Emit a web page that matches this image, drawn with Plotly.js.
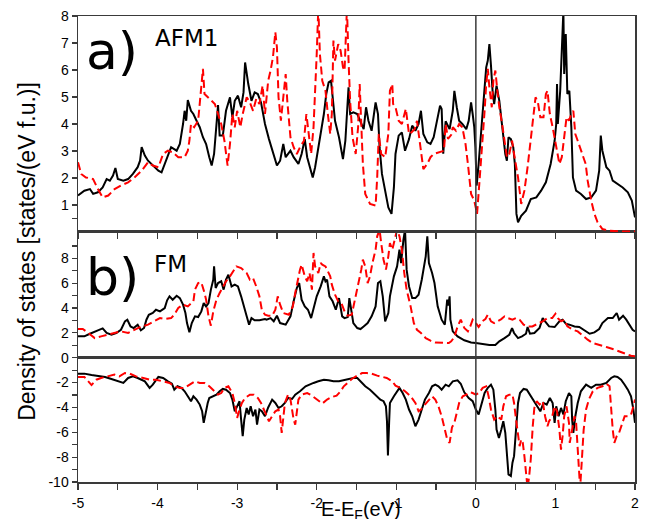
<!DOCTYPE html>
<html>
<head>
<meta charset="utf-8">
<script src="https://cdn.plot.ly/plotly-3.0.1.min.js"></script>
<style>html,body{margin:0;padding:0;background:#fff;}#chart{width:647px;height:519px;}</style>
</head>
<body>
<div id="chart"></div>
<script>
// ---------- DATA ----------
// a) AFM1, black solid
const afmBlackE = [-5,-4.92,-4.85,-4.81,-4.75,-4.69,-4.64,-4.60,-4.56,-4.53,-4.50,-4.43,-4.37,-4.31,-4.25,-4.22,-4.20,-4.16,-4.12,-4.06,-3.99,-3.95,-3.91,-3.87,-3.83,-3.76,-3.72,-3.68,-3.66,-3.64,-3.62,-3.58,-3.55,-3.51,-3.47,-3.43,-3.39,-3.35,-3.32,-3.29,-3.26,-3.24,-3.22,-3.18,-3.14,-3.09,-3.06,-3.03,-2.99,-2.95,-2.92,-2.90,-2.86,-2.82,-2.78,-2.74,-2.70,-2.65,-2.60,-2.56,-2.50,-2.46,-2.42,-2.39,-2.33,-2.29,-2.23,-2.19,-2.15,-2.12,-2.08,-2.05,-2.02,-1.98,-1.94,-1.91,-1.88,-1.85,-1.82,-1.80,-1.77,-1.72,-1.67,-1.64,-1.61,-1.60,-1.58,-1.54,-1.49,-1.45,-1.41,-1.38,-1.35,-1.31,-1.26,-1.23,-1.21,-1.18,-1.14,-1.10,-1.06,-1.03,-1.01,-0.97,-0.93,-0.89,-0.84,-0.80,-0.76,-0.72,-0.69,-0.66,-0.61,-0.57,-0.53,-0.49,-0.45,-0.43,-0.41,-0.38,-0.33,-0.29,-0.27,-0.24,-0.21,-0.17,-0.12,-0.09,-0.06,-0.04,-0.02,-0.006,0.01,0.035,0.065,0.10,0.13,0.15,0.17,0.19,0.21,0.23,0.26,0.295,0.32,0.345,0.37,0.39,0.41,0.44,0.47,0.49,0.51,0.53,0.57,0.63,0.69,0.76,0.82,0.88,0.94,0.99,1.01,1.02,1.03,1.06,1.08,1.10,1.11,1.13,1.15,1.175,1.20,1.22,1.26,1.32,1.385,1.45,1.51,1.55,1.57,1.59,1.64,1.68,1.72,1.78,1.845,1.91,1.96,2.00];
const afmBlackDos = [1.35,1.53,1.59,1.41,1.47,1.65,1.96,1.90,2.09,2.37,1.96,1.90,1.96,2.15,2.40,2.64,3.14,2.83,2.64,2.46,2.27,2.21,2.52,2.89,3.14,3.01,3.26,4.00,4.49,4.12,4.89,4.49,4.37,4.12,3.88,3.51,3.26,2.77,2.46,2.89,4.00,4.70,3.57,3.57,4.49,4.99,4.25,4.86,5.05,4.62,5.17,6.28,5.48,4.86,5.17,5.11,4.80,4.00,3.44,3.01,2.46,2.64,3.26,2.77,3.01,2.77,2.52,2.89,3.44,2.77,2.33,2.02,2.40,3.14,3.75,4.37,5.11,5.54,5.60,4.99,4.12,3.51,2.70,3.38,4.86,5.36,4.37,4.43,4.37,4.12,3.81,4.62,4.12,3.75,4.80,4.37,3.14,2.15,1.53,0.91,0.67,1.65,2.89,3.57,3.69,3.01,3.44,3.94,3.75,4.00,4.49,3.63,3.32,3.26,3.51,4.12,4.68,4.56,2.90,4.10,3.81,4.49,5.23,4.62,4.12,4.00,3.81,4.12,4.80,4.37,3.88,3.14,1.72,2.52,3.75,4.99,6.10,6.35,6.96,6.16,5.23,4.74,5.42,4.86,4.25,3.63,2.89,2.64,3.51,3.44,3.14,2.52,0.67,0.36,0.60,0.79,1.22,1.28,1.53,1.84,2.52,3.38,4.00,5.48,4.00,5.23,6.59,8.20,5.85,7.33,5.11,5.23,3.88,2.02,1.53,1.41,1.22,1.28,1.53,2.27,3.57,3.01,2.40,2.27,1.90,1.78,1.65,1.47,1.16,0.54];

// a) AFM1, red dashed
const afmRedE = [-5,-4.96,-4.90,-4.81,-4.75,-4.69,-4.62,-4.54,-4.46,-4.37,-4.29,-4.20,-4.12,-4.06,-3.99,-3.93,-3.87,-3.81,-3.74,-3.66,-3.62,-3.60,-3.58,-3.54,-3.49,-3.46,-3.43,-3.41,-3.37,-3.32,-3.28,-3.24,-3.20,-3.16,-3.12,-3.09,-3.06,-3.03,-3.00,-2.96,-2.93,-2.88,-2.84,-2.80,-2.76,-2.72,-2.68,-2.65,-2.61,-2.58,-2.55,-2.52,-2.50,-2.48,-2.45,-2.42,-2.39,-2.37,-2.33,-2.29,-2.25,-2.21,-2.16,-2.13,-2.10,-2.07,-2.04,-2.02,-2.00,-1.98,-1.96,-1.93,-1.89,-1.86,-1.83,-1.81,-1.79,-1.77,-1.73,-1.70,-1.67,-1.65,-1.63,-1.62,-1.60,-1.58,-1.55,-1.51,-1.48,-1.46,-1.44,-1.42,-1.39,-1.33,-1.26,-1.24,-1.22,-1.19,-1.14,-1.10,-1.08,-1.05,-1.04,-1.01,-0.97,-0.93,-0.88,-0.84,-0.81,-0.77,-0.74,-0.70,-0.66,-0.61,-0.57,-0.53,-0.47,-0.40,-0.38,-0.35,-0.31,-0.29,-0.25,-0.21,-0.17,-0.13,-0.10,-0.06,-0.02,0.015,0.04,0.08,0.11,0.13,0.15,0.17,0.20,0.22,0.245,0.27,0.295,0.33,0.36,0.39,0.42,0.455,0.48,0.53,0.57,0.61,0.65,0.69,0.72,0.75,0.78,0.81,0.85,0.88,0.90,0.93,0.965,1.01,1.05,1.08,1.11,1.14,1.17,1.20,1.225,1.25,1.28,1.31,1.34,1.38,1.405,1.45,1.49,1.53,1.59,1.68,1.80,2.00];
const afmRedDos = [2.58,2.15,2.02,1.96,1.59,1.28,1.35,1.59,1.72,1.84,2.02,2.27,2.58,2.46,2.40,2.89,3.01,2.95,2.77,2.77,3.01,3.38,4.00,3.88,4.12,5.11,6.04,5.11,4.99,4.86,4.74,4.37,4.00,3.38,2.46,3.26,4.37,3.88,4.49,3.88,4.37,4.99,4.80,4.49,4.93,4.74,5.42,4.37,5.60,5.98,6.47,7.40,6.84,4.99,4.12,4.99,5.85,4.86,3.51,3.14,2.89,3.14,3.38,4.37,3.51,2.89,3.88,4.99,6.59,8.30,6.59,5.60,5.23,4.37,3.63,4.37,7.09,6.35,6.96,6.72,6.10,5.98,7.33,8.30,6.35,4.86,3.51,2.89,3.88,5.48,4.00,2.52,1.41,1.04,0.98,2.02,3.63,2.89,2.77,3.63,5.23,5.48,4.74,4.62,4.12,4.00,4.56,3.63,3.69,3.81,4.12,3.14,2.33,2.52,2.77,2.89,2.95,3.01,4.00,3.45,3.60,3.88,3.75,4.00,3.88,3.26,2.52,1.41,1.16,0.67,1.65,3.14,4.49,5.48,6.04,5.36,4.62,5.60,5.98,5.23,4.62,4.00,3.38,2.77,2.89,3.38,2.89,2.02,1.04,1.53,2.40,3.38,4.12,4.99,4.80,4.25,4.25,5.11,5.23,4.37,3.88,3.14,2.52,2.77,3.51,4.25,4.12,4.37,4.49,3.63,3.38,3.14,2.89,2.52,1.90,1.16,0.67,0.36,0.11,0.05,0.02,0.02];

// b) FM majority, black solid
const fmUpBlackE = [-5,-4.92,-4.85,-4.79,-4.75,-4.69,-4.64,-4.58,-4.52,-4.46,-4.41,-4.38,-4.34,-4.30,-4.25,-4.21,-4.17,-4.14,-4.11,-4.06,-4.02,-3.97,-3.91,-3.88,-3.85,-3.81,-3.76,-3.72,-3.68,-3.65,-3.63,-3.60,-3.57,-3.53,-3.49,-3.45,-3.42,-3.39,-3.36,-3.33,-3.30,-3.29,-3.27,-3.24,-3.20,-3.17,-3.14,-3.11,-3.07,-3.03,-2.99,-2.95,-2.91,-2.88,-2.85,-2.82,-2.78,-2.72,-2.65,-2.63,-2.58,-2.54,-2.50,-2.46,-2.39,-2.33,-2.29,-2.25,-2.22,-2.19,-2.15,-2.11,-2.07,-2.03,-2.00,-1.95,-1.91,-1.89,-1.87,-1.84,-1.80,-1.76,-1.72,-1.68,-1.65,-1.61,-1.59,-1.56,-1.54,-1.49,-1.45,-1.41,-1.36,-1.31,-1.26,-1.23,-1.20,-1.17,-1.14,-1.10,-1.08,-1.03,-0.99,-0.96,-0.94,-0.91,-0.89,-0.87,-0.84,-0.80,-0.76,-0.72,-0.68,-0.63,-0.61,-0.59,-0.55,-0.52,-0.48,-0.43,-0.39,-0.36,-0.345,-0.33,-0.32,-0.29,-0.23,-0.145,-0.06,0.0,0.086,0.17,0.245,0.295,0.36,0.42,0.455,0.48,0.53,0.58,0.63,0.65,0.68,0.735,0.80,0.84,0.87,0.92,0.99,1.05,1.09,1.13,1.175,1.24,1.30,1.36,1.43,1.49,1.55,1.59,1.66,1.72,1.77,1.80,1.85,1.89,1.93,1.97,2.00];
const fmUpBlackDos = [1.72,1.72,1.93,2.12,2.20,2.36,1.99,1.85,1.99,2.25,2.93,3.06,2.52,2.39,2.66,2.20,2.39,3.06,3.46,3.60,3.86,3.73,4.00,4.62,4.94,4.67,4.99,4.80,4.27,3.60,2.79,2.04,2.79,3.33,3.27,3.73,4.40,4.13,4.40,5.48,6.28,7.35,5.61,6.01,6.15,5.48,6.28,6.68,5.74,5.88,5.74,4.94,4.13,3.33,2.66,3.19,3.01,3.01,3.11,3.06,3.19,2.93,3.38,2.79,2.66,3.33,4.54,5.61,6.01,4.67,4.13,3.86,3.19,4.13,4.94,5.74,6.55,6.15,6.28,4.94,4.54,3.86,4.80,3.33,3.19,3.27,4.80,3.60,2.79,2.39,2.31,2.52,2.79,3.33,4.13,6.01,6.15,4.94,2.93,3.60,4.94,6.55,7.35,8.70,7.62,9.50,10.3,7.09,5.74,4.80,4.80,5.07,6.28,8.16,9.77,7.62,6.82,6.01,4.13,3.06,2.66,4.67,4.20,4.94,3.06,2.12,1.72,1.40,1.23,1.18,1.10,1.02,1.02,1.32,1.58,1.85,2.39,1.99,1.58,1.72,1.93,2.47,1.93,1.99,2.39,3.19,2.93,2.52,2.47,2.93,3.06,2.74,2.66,2.52,2.47,2.25,1.93,2.04,2.31,2.79,3.19,3.19,3.60,3.06,3.38,3.06,2.66,2.25,2.12];

// b) FM majority, red dashed
const fmUpRedE = [-5,-4.94,-4.87,-4.79,-4.71,-4.62,-4.54,-4.46,-4.37,-4.29,-4.20,-4.12,-4.04,-3.97,-3.91,-3.83,-3.79,-3.74,-3.68,-3.62,-3.55,-3.53,-3.49,-3.45,-3.41,-3.39,-3.36,-3.33,-3.30,-3.26,-3.22,-3.18,-3.14,-3.09,-3.05,-3.01,-2.95,-2.88,-2.84,-2.80,-2.76,-2.72,-2.69,-2.65,-2.61,-2.56,-2.52,-2.49,-2.46,-2.42,-2.35,-2.30,-2.27,-2.24,-2.21,-2.19,-2.15,-2.12,-2.09,-2.06,-2.04,-2.02,-1.98,-1.95,-1.93,-1.89,-1.86,-1.83,-1.81,-1.77,-1.73,-1.69,-1.65,-1.61,-1.56,-1.52,-1.47,-1.44,-1.42,-1.39,-1.36,-1.33,-1.30,-1.26,-1.24,-1.21,-1.19,-1.16,-1.13,-1.10,-1.08,-1.05,-1.02,-0.99,-0.96,-0.93,-0.90,-0.87,-0.82,-0.78,-0.74,-0.69,-0.63,-0.57,-0.51,-0.43,-0.34,-0.31,-0.27,-0.23,-0.19,-0.145,-0.10,-0.07,-0.04,0.0,0.035,0.08,0.12,0.15,0.19,0.23,0.27,0.32,0.36,0.40,0.46,0.505,0.55,0.60,0.65,0.71,0.78,0.84,0.90,0.96,1.00,1.03,1.07,1.11,1.15,1.22,1.28,1.34,1.405,1.47,1.55,1.64,1.72,1.80,1.89,1.95,2.00];
const fmUpRedDos = [2.31,2.31,1.99,1.58,1.72,1.85,1.99,2.12,1.99,2.25,2.52,2.66,2.93,3.19,3.11,3.19,3.46,4.00,4.27,4.13,4.54,5.48,6.01,6.07,5.21,4.67,3.33,2.58,3.73,4.67,5.21,5.74,6.15,6.55,6.95,7.35,7.22,6.82,6.28,6.41,5.74,4.94,3.86,3.46,3.38,3.38,3.86,4.94,4.27,3.60,3.46,4.13,5.21,6.28,7.09,7.49,6.55,6.15,6.82,5.48,8.43,7.35,6.82,7.62,7.49,7.35,6.95,6.55,5.88,5.07,4.54,4.40,3.73,3.38,3.46,4.67,6.01,7.09,7.89,7.35,6.01,6.55,7.62,8.70,9.77,10.3,9.23,7.89,7.09,8.16,9.23,8.70,9.50,10.3,9.77,8.70,6.82,5.48,4.13,2.79,2.25,1.99,1.58,1.37,1.23,1.18,1.18,1.32,1.66,2.52,3.06,2.39,2.12,2.52,3.06,2.79,2.47,2.93,3.11,3.46,2.93,2.79,2.93,3.11,3.33,3.19,3.06,3.19,3.06,2.66,2.52,2.52,2.74,2.93,3.19,3.19,3.54,3.19,2.93,3.06,2.52,2.25,2.12,1.77,1.45,1.18,1.05,0.86,0.70,0.51,0.32,0.16,0.11];

// FM minority (negative), black solid
const fmDnBlackE = [-5,-4.92,-4.83,-4.75,-4.66,-4.58,-4.50,-4.43,-4.37,-4.31,-4.25,-4.16,-4.10,-4.06,-3.99,-3.93,-3.87,-3.82,-3.79,-3.75,-3.70,-3.66,-3.62,-3.58,-3.55,-3.51,-3.47,-3.44,-3.42,-3.40,-3.37,-3.35,-3.30,-3.26,-3.22,-3.18,-3.14,-3.09,-3.06,-3.03,-3.00,-2.97,-2.95,-2.93,-2.91,-2.88,-2.855,-2.83,-2.80,-2.77,-2.75,-2.72,-2.69,-2.65,-2.61,-2.56,-2.52,-2.48,-2.44,-2.40,-2.36,-2.31,-2.27,-2.21,-2.14,-2.10,-2.04,-1.98,-1.91,-1.85,-1.79,-1.72,-1.66,-1.60,-1.54,-1.49,-1.45,-1.39,-1.33,-1.26,-1.20,-1.16,-1.13,-1.117,-1.105,-1.09,-1.08,-1.03,-0.99,-0.96,-0.92,-0.88,-0.84,-0.80,-0.76,-0.72,-0.68,-0.64,-0.59,-0.55,-0.51,-0.47,-0.43,-0.38,-0.34,-0.30,-0.29,-0.23,-0.19,-0.145,-0.09,-0.04,0.0,0.035,0.065,0.11,0.15,0.19,0.22,0.245,0.26,0.29,0.32,0.345,0.37,0.39,0.41,0.44,0.46,0.48,0.505,0.53,0.555,0.60,0.64,0.68,0.72,0.765,0.81,0.85,0.89,0.93,0.965,0.99,1.01,1.04,1.07,1.10,1.13,1.17,1.20,1.21,1.225,1.25,1.28,1.32,1.385,1.45,1.51,1.57,1.64,1.70,1.74,1.78,1.825,1.87,1.91,1.95,1.98,2.00];
const fmDnBlackDos = [-1.28,-1.28,-1.39,-1.44,-1.55,-1.71,-1.90,-2.03,-1.63,-1.50,-1.63,-1.90,-2.43,-2.17,-1.55,-1.63,-1.90,-2.09,-2.57,-2.30,-2.43,-2.70,-3.10,-3.50,-3.10,-3.37,-3.77,-4.31,-5.24,-4.57,-3.64,-3.24,-3.10,-2.97,-2.70,-2.51,-2.57,-2.84,-3.37,-4.31,-3.91,-3.50,-4.98,-6.31,-4.98,-4.04,-4.57,-3.91,-4.71,-4.17,-5.38,-4.17,-4.31,-4.71,-4.00,-3.37,-3.64,-4.04,-3.91,-3.64,-3.24,-3.32,-2.97,-2.70,-2.30,-2.17,-2.03,-1.90,-1.77,-1.82,-1.90,-1.90,-1.82,-1.77,-1.63,-1.63,-1.90,-2.30,-2.57,-2.97,-3.37,-3.50,-3.91,-5.11,-7.87,-5.24,-3.64,-3.10,-2.70,-2.43,-2.84,-3.37,-4.17,-4.71,-5.51,-4.98,-4.17,-3.37,-2.84,-2.30,-2.17,-2.30,-2.57,-2.17,-2.30,-1.90,-1.90,-1.82,-2.09,-2.78,-3.24,-3.50,-4.17,-4.57,-3.91,-2.84,-2.43,-2.17,-2.57,-4.17,-5.78,-6.45,-5.78,-5.11,-6.04,-8.19,-9.39,-9.52,-8.45,-7.92,-5.51,-3.64,-2.84,-2.51,-2.57,-2.97,-3.37,-3.77,-4.31,-3.64,-3.77,-3.24,-3.64,-5.24,-3.91,-4.71,-4.04,-4.57,-3.50,-2.84,-3.10,-4.98,-6.04,-4.71,-3.64,-2.70,-2.17,-2.43,-2.17,-2.17,-2.03,-1.63,-1.50,-1.55,-1.77,-2.17,-2.57,-3.10,-4.17,-5.24];

// FM minority (negative), red dashed
const fmDnRedE = [-5,-4.92,-4.83,-4.77,-4.71,-4.62,-4.54,-4.48,-4.41,-4.35,-4.27,-4.18,-4.10,-4.02,-3.93,-3.85,-3.79,-3.72,-3.66,-3.60,-3.53,-3.47,-3.41,-3.35,-3.28,-3.24,-3.20,-3.16,-3.11,-3.06,-3.03,-3.00,-2.97,-2.94,-2.90,-2.84,-2.79,-2.74,-2.70,-2.65,-2.60,-2.56,-2.52,-2.48,-2.46,-2.44,-2.42,-2.40,-2.36,-2.33,-2.31,-2.29,-2.27,-2.25,-2.23,-2.19,-2.12,-2.06,-2.00,-1.93,-1.87,-1.81,-1.75,-1.70,-1.66,-1.61,-1.56,-1.49,-1.43,-1.37,-1.31,-1.24,-1.18,-1.12,-1.05,-1.01,-0.95,-0.89,-0.82,-0.76,-0.72,-0.69,-0.64,-0.59,-0.55,-0.51,-0.47,-0.43,-0.39,-0.36,-0.33,-0.30,-0.27,-0.24,-0.21,-0.165,-0.12,-0.08,-0.04,0.0,0.04,0.086,0.13,0.16,0.19,0.23,0.27,0.32,0.345,0.38,0.42,0.46,0.48,0.505,0.53,0.55,0.57,0.59,0.61,0.63,0.65,0.67,0.69,0.715,0.735,0.765,0.80,0.84,0.87,0.90,0.92,0.96,0.99,1.02,1.05,1.07,1.09,1.11,1.14,1.17,1.18,1.21,1.24,1.26,1.28,1.30,1.31,1.33,1.355,1.385,1.42,1.47,1.53,1.59,1.64,1.68,1.70,1.72,1.74,1.77,1.80,1.84,1.87,1.91,1.95,1.98,2.00];
const fmDnRedDos = [-1.55,-1.55,-2.20,-1.77,-1.63,-1.50,-1.36,-1.50,-1.23,-1.28,-1.50,-1.63,-1.77,-1.77,-1.90,-2.03,-2.30,-2.43,-2.43,-2.17,-1.90,-2.03,-2.03,-2.30,-2.70,-2.97,-2.84,-2.43,-2.30,-2.84,-3.64,-4.84,-4.17,-3.64,-3.24,-2.97,-2.97,-3.24,-3.64,-4.40,-5.11,-4.71,-4.31,-4.17,-4.71,-6.04,-4.71,-3.64,-2.97,-3.37,-4.17,-4.98,-5.38,-4.17,-3.37,-2.97,-2.84,-3.05,-3.37,-3.69,-3.37,-3.16,-3.05,-2.70,-2.30,-2.03,-1.71,-1.44,-1.23,-1.23,-1.28,-1.44,-1.55,-1.63,-1.90,-2.25,-2.43,-2.70,-3.10,-3.64,-4.31,-4.17,-3.77,-3.37,-3.10,-3.37,-3.91,-4.71,-5.78,-6.58,-6.85,-5.60,-5.24,-4.44,-3.64,-3.10,-2.97,-2.78,-2.84,-2.97,-2.84,-2.43,-2.30,-3.10,-4.17,-4.98,-4.71,-4.98,-3.91,-3.10,-2.97,-2.97,-3.64,-4.98,-6.04,-7.12,-6.58,-6.85,-7.92,-9.52,-10.5,-9.52,-8.19,-5.51,-4.04,-3.50,-3.77,-3.50,-4.71,-5.51,-5.11,-4.71,-3.91,-4.31,-5.78,-7.39,-6.31,-4.71,-3.91,-5.24,-6.85,-5.78,-4.71,-5.24,-7.12,-9.26,-10.5,-8.45,-5.78,-4.17,-3.37,-2.70,-2.43,-2.30,-2.09,-2.30,-4.17,-5.78,-6.85,-6.31,-6.04,-5.24,-4.71,-4.71,-4.57,-3.91,-3.37];

// Tick values and labels
const xTickVals = [-5,-4.5,-4,-3.5,-3,-2.5,-2,-1.5,-1,-0.5,0,0.5,1,1.5,2];
const xTickText = ['-5','','-4','','-3','','-2','','-1','','0','','1','','2'];
const yTopTickVals = [0.5,1,2,3,4,5,6,7,8];
const yTopTickText = ['','1','2','3','4','5','6','7','8'];
const yMidTickVals = [0,1,2,3,4,5,6,7,8,9];
const yMidTickText = ['0','','2','','4','','6','','8',''];
const yBotTickVals = [-10,-9,-8,-7,-6,-5,-4,-3,-2,-1];
const yBotTickText = ['-10','','-8','','-6','','-4','','-2',''];

const panelLabels = ['a)', 'AFM1', 'b)', 'FM'];
const yTitle = 'Density of states [states/(eV f.u.)]';
const xTitle = 'E-E<sub>F</sub>(eV)';

// ---------- STYLE ----------
const blackLine = {color:'#000000', width:2};
const redLine = {color:'#ff0000', width:2, dash:'8px,4px'};
const frame = '#3a3a3a';
const tickFont = {family:'Liberation Sans, Arial, sans-serif', size:14, color:'#000'};

const traces = [
  {x:afmBlackE, y:afmBlackDos, xaxis:'x3', yaxis:'y3', line:blackLine},
  {x:afmRedE, y:afmRedDos, xaxis:'x3', yaxis:'y3', line:redLine},
  {x:fmUpBlackE, y:fmUpBlackDos, xaxis:'x2', yaxis:'y2', line:blackLine},
  {x:fmUpRedE, y:fmUpRedDos, xaxis:'x2', yaxis:'y2', line:redLine},
  {x:fmDnBlackE, y:fmDnBlackDos, xaxis:'x', yaxis:'y', line:blackLine},
  {x:fmDnRedE, y:fmDnRedDos, xaxis:'x', yaxis:'y', line:redLine}
].map(t => Object.assign({type:'scatter', mode:'lines', hoverinfo:'skip', showlegend:false}, t));

const baseX = {range:[-5,2], showline:true, linecolor:frame, linewidth:1.5, mirror:true,
  showgrid:false, zeroline:false, tickmode:'array', tickvals:xTickVals, ticktext:xTickText,
  tickfont:tickFont, tickcolor:frame, ticklen:6, tickwidth:1.2};
const baseY = {showline:true, linecolor:frame, linewidth:1.5, mirror:true, showgrid:false,
  zeroline:false, ticks:'outside', ticklen:5, tickwidth:1.2, tickcolor:frame, tickfont:tickFont, tickmode:'array'};

const layout = {
  width:647, height:519,
  margin:{l:78, r:12, t:16, b:37, pad:0},
  paper_bgcolor:'#fff', plot_bgcolor:'rgba(0,0,0,0)',
  showlegend:false,
  xaxis: Object.assign({}, baseX, {anchor:'y', ticks:'outside', showticklabels:true, ticklabelstandoff:2}),
  xaxis2: Object.assign({}, baseX, {anchor:'y2', ticks:'', showticklabels:false}),
  xaxis3: Object.assign({}, baseX, {anchor:'y3', ticks:'outside', showticklabels:false}),
  yaxis: Object.assign({}, baseY, {anchor:'x', domain:[0,0.2667], range:[-10,0], tickvals:yBotTickVals, ticktext:yBotTickText}),
  yaxis2: Object.assign({}, baseY, {anchor:'x2', domain:[0.2667,0.5365], range:[0,10.12], tickvals:yMidTickVals, ticktext:yMidTickText}),
  yaxis3: Object.assign({}, baseY, {anchor:'x3', domain:[0.5365,1], range:[0,8], tickvals:yTopTickVals, ticktext:yTopTickText}),
  shapes:[{type:'line', xref:'x', yref:'paper', x0:0, x1:0, y0:0, y1:1, layer:'above',
    line:{color:frame, width:1.5}}],
  annotations:[
    {text:panelLabels[0], xref:'paper', yref:'paper', x:0.011, y:0.925, xanchor:'left', yanchor:'middle', showarrow:false,
      font:{family:'DejaVu Sans, sans-serif', size:52, color:'#000'}},
    {text:panelLabels[1], xref:'paper', yref:'paper', x:0.135, y:0.953, xanchor:'left', yanchor:'middle', showarrow:false,
      font:{family:'DejaVu Sans, sans-serif', size:23, color:'#000'}},
    {text:panelLabels[2], xref:'paper', yref:'paper', x:0.011, y:0.44, xanchor:'left', yanchor:'middle', showarrow:false,
      font:{family:'DejaVu Sans, sans-serif', size:52, color:'#000'}},
    {text:panelLabels[3], xref:'paper', yref:'paper', x:0.133, y:0.468, xanchor:'left', yanchor:'middle', showarrow:false,
      font:{family:'DejaVu Sans, sans-serif', size:23, color:'#000'}},
    {text:yTitle, xref:'paper', yref:'paper', x:-0.0916, y:0.496, xanchor:'center', yanchor:'middle', textangle:-90, showarrow:false,
      font:{family:'Liberation Sans, Arial, sans-serif', size:23, color:'#000'}},
    {text:xTitle, xref:'paper', yref:'paper', x:0.508, y:-0.030, xanchor:'center', yanchor:'top', showarrow:false,
      font:{family:'Liberation Sans, Arial, sans-serif', size:20, color:'#000'}}
  ]
};

Plotly.newPlot('chart', traces, layout, {staticPlot:true, displayModeBar:false});
</script>
</body>
</html>
